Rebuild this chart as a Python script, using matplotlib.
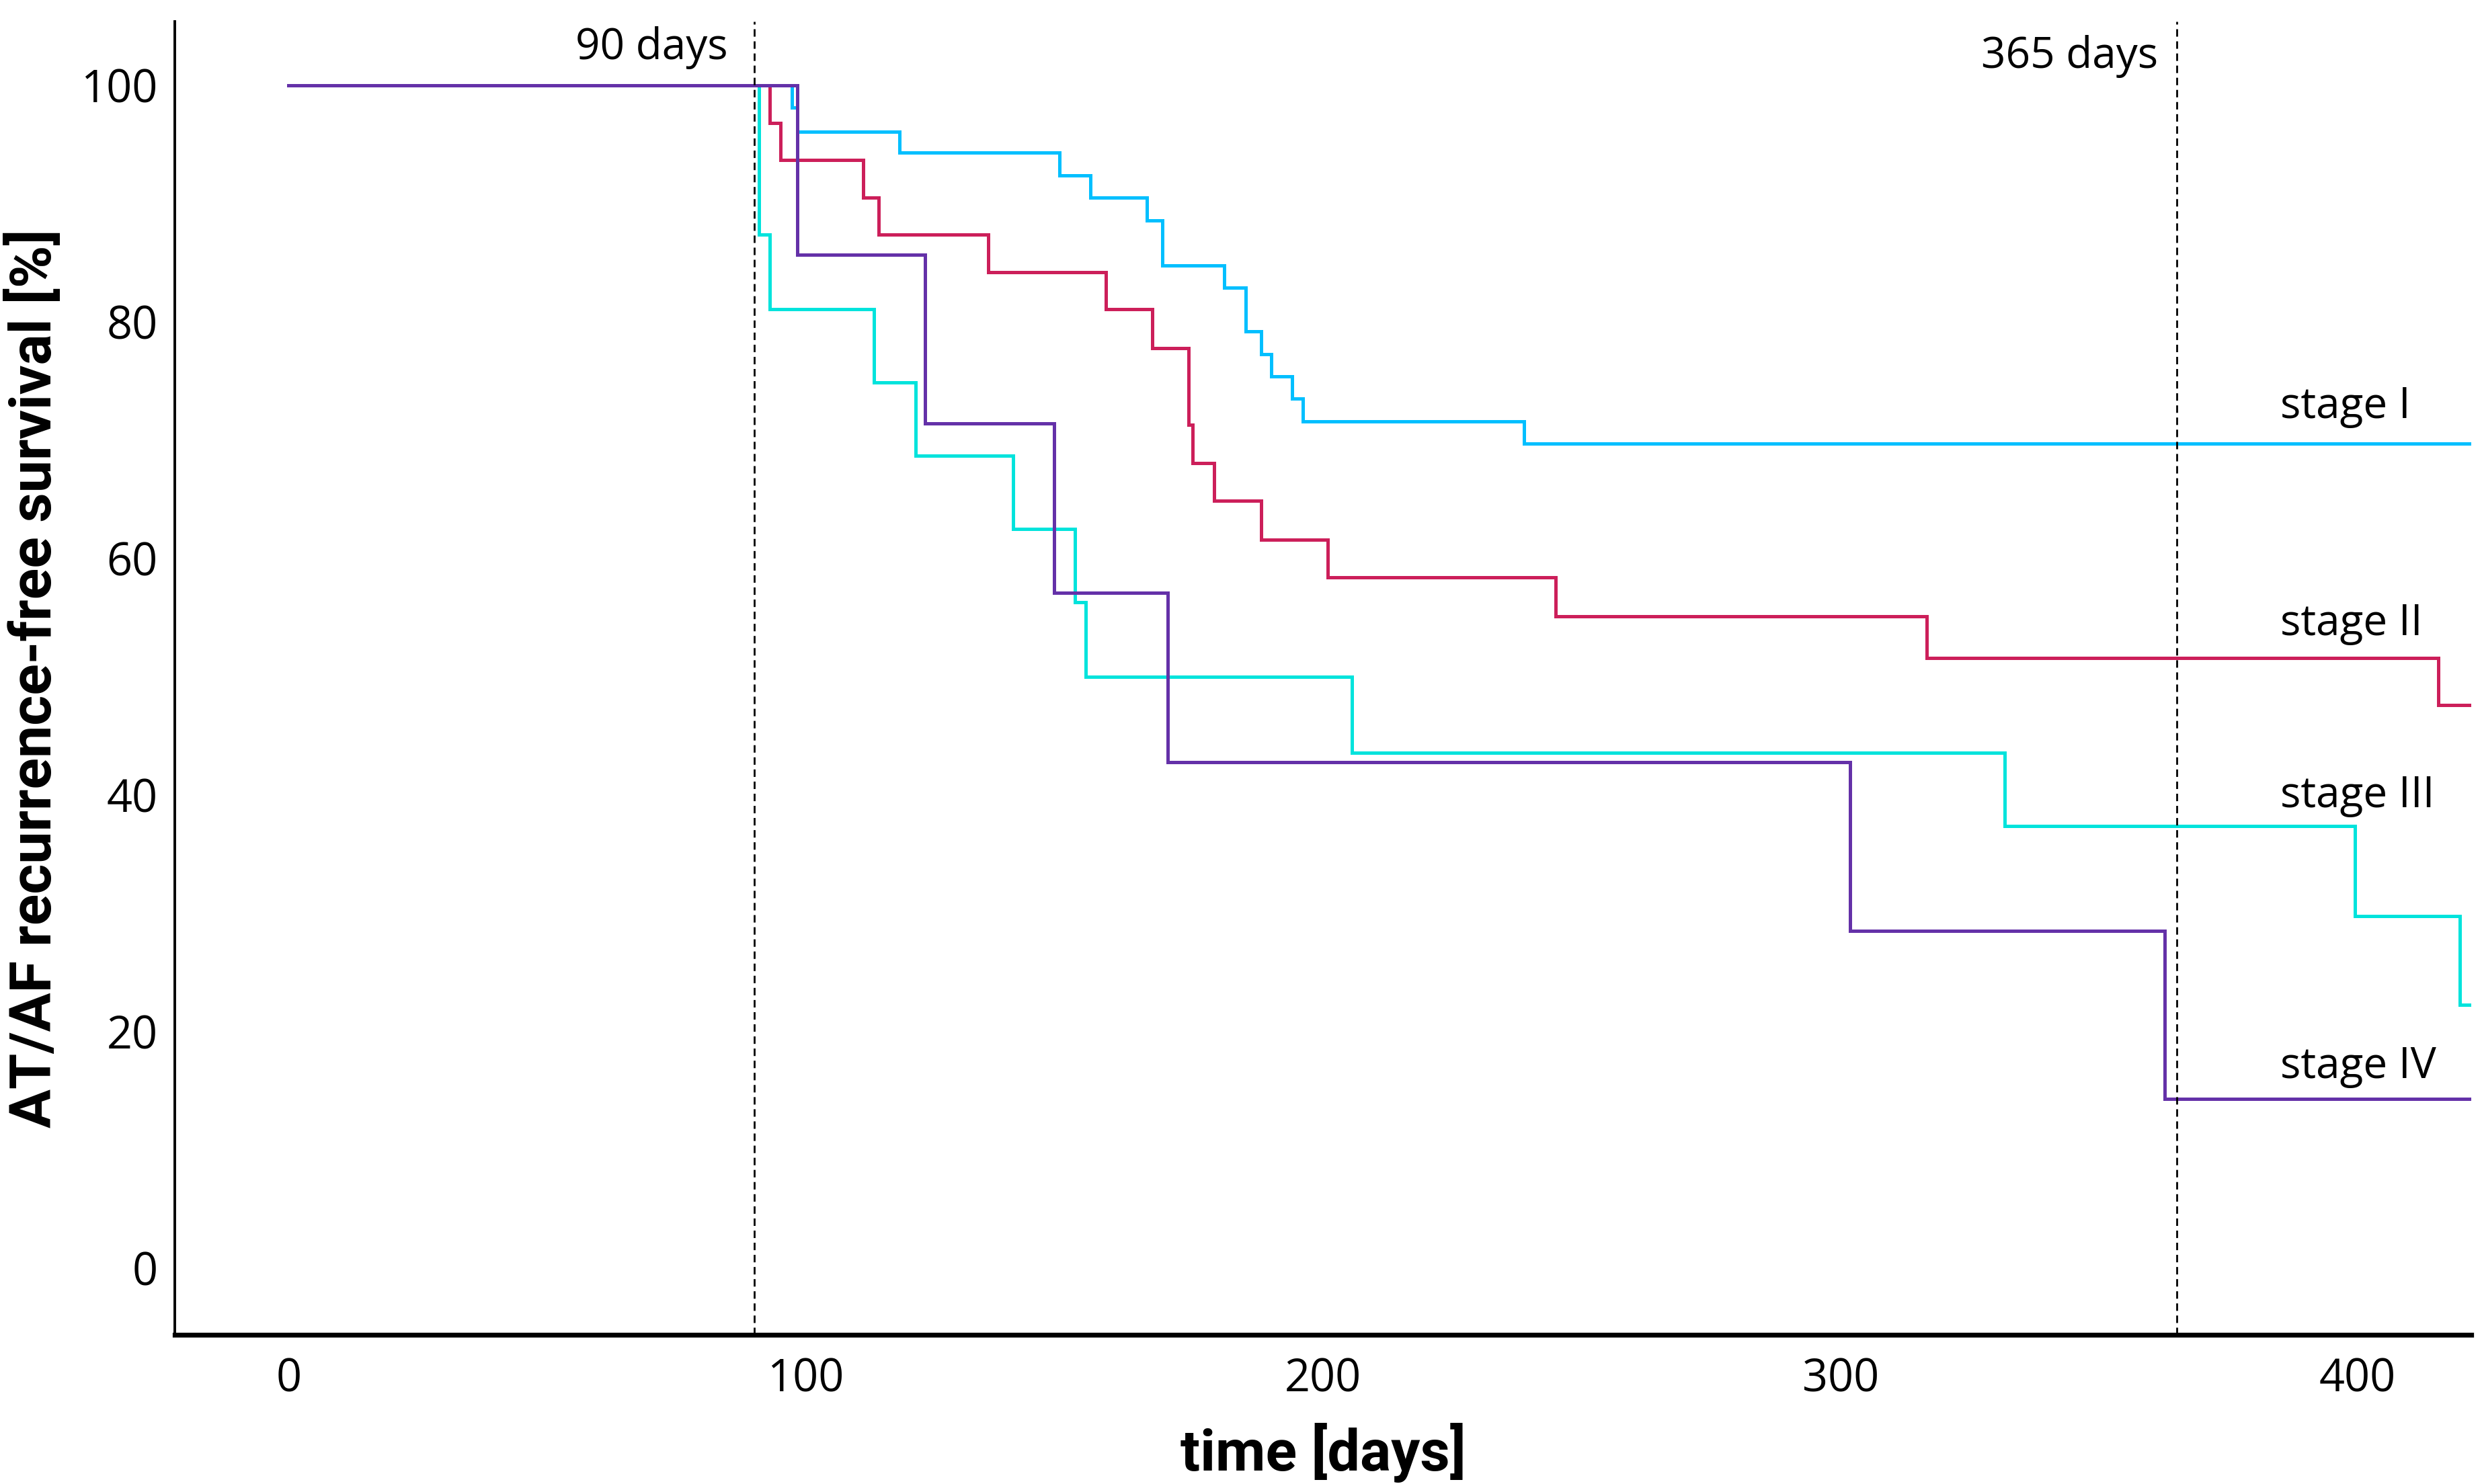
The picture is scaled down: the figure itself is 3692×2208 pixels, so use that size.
import numpy as np
import matplotlib
matplotlib.use('Agg')
import matplotlib.pyplot as plt

# Kaplan-Meier steps (days, % recurrence-free)
t_stage1 = [0, 97.3, 98.4, 118.1, 149.0, 155.0, 165.9, 168.9, 180.9, 185.0, 188.0, 190.0, 194.0, 196.1, 238.8, 422]
s_stage1 = [100, 98.1, 96.1, 94.3, 92.4, 90.5, 88.6, 84.8, 82.9, 79.2, 77.3, 75.4, 73.5, 71.6, 69.7, 69.7]

t_stage2 = [0, 93.0, 95.1, 111.1, 114.1, 135.2, 158.0, 167.0, 174.0, 174.8, 178.9, 188.0, 200.9, 244.9, 316.7, 415.6, 422]
s_stage2 = [100, 96.8, 93.7, 90.5, 87.4, 84.2, 81.1, 77.8, 71.3, 68.1, 64.9, 61.6, 58.4, 55.1, 51.6, 47.6, 47.6]

t_stage3 = [0, 90.9, 93.0, 113.1, 121.2, 140.0, 152.0, 154.1, 205.6, 331.8, 399.5, 419.7, 422]
s_stage3 = [100, 87.4, 81.1, 74.9, 68.7, 62.5, 56.3, 50.0, 43.6, 37.4, 29.8, 22.3, 22.3]

t_stage4 = [0, 98.3, 123.1, 148.0, 169.9, 301.9, 362.7, 422]
s_stage4 = [100, 85.7, 71.4, 57.1, 42.8, 28.5, 14.3, 14.3]

stage_names = ['stage I', 'stage II', 'stage III', 'stage IV']
stage_colors = ['#00BFFF', '#CC1F5A', '#00E3DC', '#6431A8']
label_y = [71.9, 53.5, 39.0, 16.1]

marks = [90, 365]
mark_text = ['90 days', '365 days']

plt.rcParams['font.family'] = ['Open Sans', 'DejaVu Sans']

fig = plt.figure(figsize=(18.46, 11.04), dpi=200)
ax = fig.add_axes([0.0704, 0.1007, 0.9254, 0.8848])

curves = [(t_stage1, s_stage1), (t_stage2, s_stage2), (t_stage3, s_stage3), (t_stage4, s_stage4)]
for (t, s), c in zip(curves, stage_colors):
    ax.step(t, s, where='post', color=c, lw=1.8, solid_joinstyle='miter')

for m in marks:
    ax.axvline(m, color='black', lw=1.0, dashes=(4, 2.5), zorder=5)
ax.text(84.9, 102.2, mark_text[0], ha='right', va='baseline', fontsize=23)
ax.text(361.4, 101.5, mark_text[1], ha='right', va='baseline', fontsize=23)

for name, yy in zip(stage_names, label_y):
    ax.text(385, yy, name, ha='left', va='baseline', fontsize=23)

ax.set_xlim(-22, 422)
ax.set_ylim(-5.6, 105.4)
ax.set_xticks([0, 100, 200, 300, 400])
ax.set_yticks([0, 20, 40, 60, 80, 100])
ax.tick_params(length=0, labelsize=24)
ax.tick_params(axis='x', pad=12)
ax.tick_params(axis='y', pad=9)

for sp in ['top', 'right']:
    ax.spines[sp].set_visible(False)
ax.spines['left'].set_linewidth(1.4)
ax.spines['bottom'].set_linewidth(2.6)

lab_font = dict(family=['Roboto', 'DejaVu Sans'], weight='bold', size=31)
ax.set_xlabel('time [days]', labelpad=11, **lab_font)
ax.set_ylabel('AT/AF recurrence-free survival [%]', labelpad=10, **lab_font)

fig.savefig('out.png', dpi=200)
